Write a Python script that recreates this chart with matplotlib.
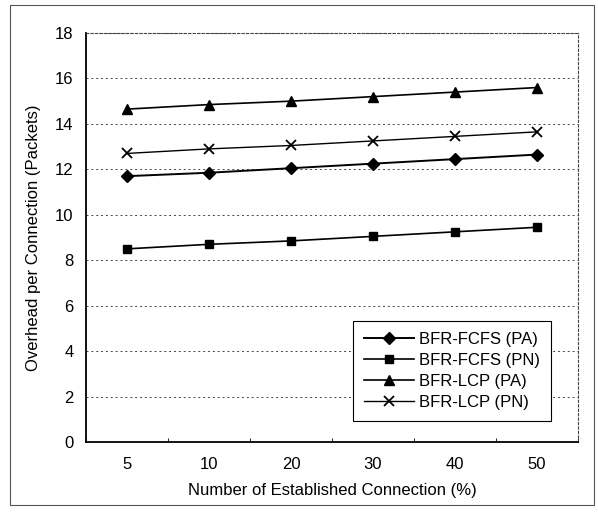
import numpy as np
import matplotlib.pyplot as plt
from matplotlib.patches import Rectangle

plt.rcParams['font.family'] = ['Liberation Sans', 'DejaVu Sans']

# Overhead per connection vs. share of established connections
categories = ["5", "10", "20", "30", "40", "50"]
fcfs_pa = [11.7, 11.85, 12.05, 12.25, 12.45, 12.65]
fcfs_pn = [8.5, 8.7, 8.85, 9.05, 9.25, 9.45]
lcp_pa = [14.65, 14.85, 15.0, 15.2, 15.4, 15.6]
lcp_pn = [12.7, 12.9, 13.05, 13.25, 13.45, 13.65]

x = np.arange(len(categories))

fig = plt.figure(figsize=(5.98, 5.15), dpi=100)
ax = fig.add_axes([86/598, 1-442/515, 492/598, 409/515])

# outer chart border
fig.patches.append(Rectangle((10/598, 10/515), 584/598, 500/515, transform=fig.transFigure,
                             fill=False, edgecolor='#555555', lw=0.8))

ax.plot(x, fcfs_pa, color='black', marker='D', ms=6, lw=1.4, label='BFR-FCFS (PA)')
ax.plot(x, fcfs_pn, color='black', marker='s', ms=6, lw=1.2, label='BFR-FCFS (PN)')
ax.plot(x, lcp_pa, color='black', marker='^', ms=7, lw=1.2, label='BFR-LCP (PA)')
ax.plot(x, lcp_pn, color='black', marker='x', ms=7, mew=1.3, lw=1.0, label='BFR-LCP (PN)')

ax.set_xlim(-0.5, len(categories) - 0.5)
ax.set_ylim(0, 18)
ax.set_yticks(np.arange(0, 19, 2))
ax.set_xticks(x)
ax.set_xticklabels(categories)
ax.set_xticks(np.arange(-0.5, len(categories)), minor=True)
ax.tick_params(axis='x', which='major', length=0, pad=11, labelsize=12)
ax.tick_params(axis='x', which='minor', length=3, direction='in')
ax.tick_params(axis='y', length=0, pad=9, labelsize=12)

for v in np.arange(2, 19, 2):
    ax.axhline(v, color='#444444', lw=0.7, ls=(0, (2, 3)), zorder=0)

for side in ['top', 'right']:
    ax.spines[side].set_linestyle((0, (2, 2)))
    ax.spines[side].set_color('#444444')
    ax.spines[side].set_linewidth(0.8)
for side in ['left', 'bottom']:
    ax.spines[side].set_linewidth(1.3)

ax.set_xlabel("Number of Established Connection (%)", fontsize=12, labelpad=8)
ax.set_ylabel("Overhead per Connection (Packets)", fontsize=12, labelpad=10)

leg = ax.legend(loc='lower right', bbox_to_anchor=(0.955, 0.04), fancybox=False,
                edgecolor='black', fontsize=12, handlelength=3.0, labelspacing=0.35,
                borderpad=0.65, borderaxespad=0.3, handletextpad=0.3, framealpha=1)
leg.get_frame().set_linewidth(0.8)

fig.savefig("out.png", dpi=100)
